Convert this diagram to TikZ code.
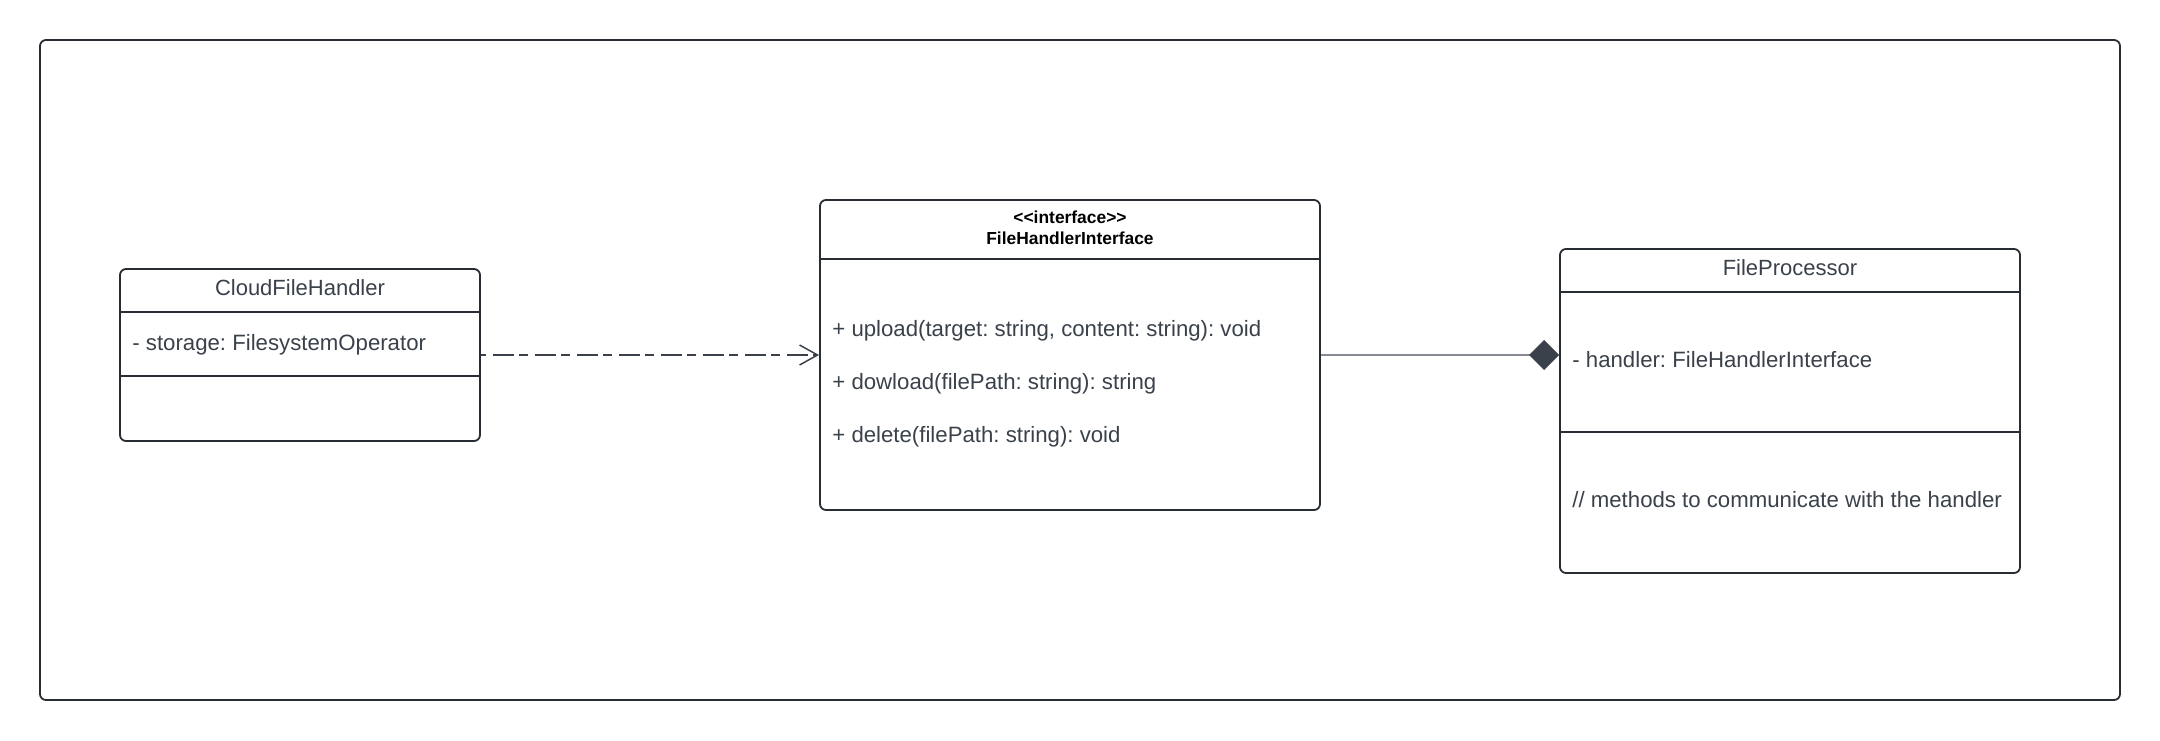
\documentclass[tikz,border=0pt]{standalone}
\usepackage{fontspec}
\setmainfont{Liberation Sans}
\frenchspacing
\usetikzlibrary{arrows.meta}
\definecolor{umlline}{HTML}{282C33}
\definecolor{umltext}{HTML}{3A414A}
\definecolor{umlgray}{HTML}{868B93}

\begin{document}
\begin{tikzpicture}[x=0.5pt,y=-0.5pt,
        class box/.style={rectangle,rounded corners=3pt,draw=umlline,line width=0.9pt,inner sep=0pt},
        divider/.style={draw=umlline,line width=0.9pt},
        title/.style={font=\fontsize{11}{13}\selectfont,text=umltext,inner sep=0pt},
        member/.style={anchor=west,font=\fontsize{11.1}{13}\selectfont,text=umltext,inner sep=0pt},
        stereo/.style={font=\fontsize{8.7}{10}\selectfont\bfseries,text=black,inner sep=0pt},
        depend/.style={draw=umltext,line width=0.75pt,dash pattern=on 10.5pt off 2.5pt on 4.5pt off 3.5pt,dash phase=15pt,-{Straight Barb[length=9pt,width=10pt]}},
        compose/.style={draw=umlgray,line width=0.55pt,-{Diamond[length=15pt,width=15pt,color=umltext,fill=umltext]}}]

    \useasboundingbox (0,0) rectangle (2160,740);
    \node[class box,minimum width=1040pt,minimum height=330pt] (frame) at (1080,370) {};

    \node[class box,minimum width=180pt,minimum height=86pt] (cloud) at (300,355) {};
    \node[title] (cloud title) at (300,288) {CloudFileHandler};
    \node[member] (cloud attr) at (132,345) {- storage: FilesystemOperator};
    \draw[divider] (cloud.west |- 0,312) -- (cloud.east |- 0,312);
    \draw[divider] (cloud.west |- 0,376) -- (cloud.east |- 0,376);

    \node[class box,minimum width=250pt,minimum height=155pt] (iface) at (1070,355) {};
    \node[stereo] (iface stereo) at (1070,217) {<{}<interface>{}>};
    \node[stereo] (iface title) at (1070,238) {FileHandlerInterface};
    \draw[divider] (iface.west |- 0,259) -- (iface.east |- 0,259);
    \node[member] (upload) at (832,331) {+ upload(target: string, content: string): void};
    \node[member] (download) at (832,384) {+ dowload(filePath: string): string};
    \node[member] (delete) at (832,437) {+ delete(filePath: string): void};

    \node[class box,minimum width=230pt,minimum height=162pt] (proc) at (1790,411) {};
    \node[title] (proc title) at (1790,268) {FileProcessor};
    \draw[divider] (proc.west |- 0,292) -- (proc.east |- 0,292);
    \node[member] (proc attr) at (1572,360) {- handler: FileHandlerInterface};
    \draw[divider] (proc.west |- 0,432) -- (proc.east |- 0,432);
    \node[member] (proc ops) at (1572,500) {// methods to communicate with the handler};

    \draw[depend] (cloud.east) -- (iface.west);
    \draw[compose] (iface.east) -- (iface.east -| proc.west);

\end{tikzpicture}
\end{document}
